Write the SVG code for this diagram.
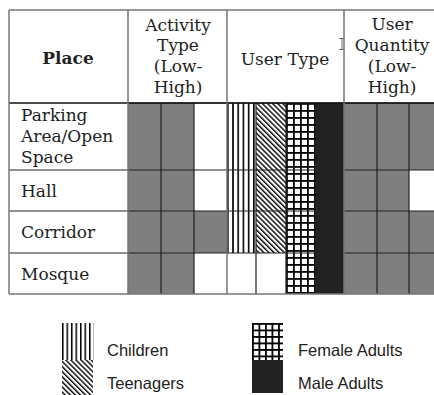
<svg xmlns="http://www.w3.org/2000/svg" width="434" height="395" viewBox="0 0 434 395">
<defs>
<style>
.hd{font-family:"DejaVu Serif","Liberation Serif",serif;font-size:17px;fill:#222;text-anchor:middle}
.rl{font-family:"DejaVu Serif","Liberation Serif",serif;font-size:17px;fill:#222}
.lg{font-family:"Liberation Sans",Arial,sans-serif;font-size:16.5px;fill:#222}
.g{fill:#7f7f7f}
.k{fill:#222}
.ln{stroke:#222;stroke-width:1.2;fill:none}
.lt{stroke:#777;stroke-width:1.5;fill:none}
</style>
<pattern id="vs" patternUnits="userSpaceOnUse" x="227" y="0" width="5.2" height="10">
<rect width="5.2" height="10" fill="#fff"/>
<rect x="0" y="0" width="1.6" height="10" fill="#000"/>
</pattern>
<pattern id="vs2" patternUnits="userSpaceOnUse" x="62" y="0" width="4.5" height="10">
<rect width="4.5" height="10" fill="#fff"/>
<rect x="0" y="0" width="1.5" height="10" fill="#000"/>
</pattern>
<pattern id="dg" patternUnits="userSpaceOnUse" width="3.6" height="10" patternTransform="rotate(-45)">
<rect width="3.6" height="10" fill="#fff"/>
<rect x="0" y="0" width="1.4" height="10" fill="#000"/>
</pattern>
<pattern id="gr" patternUnits="userSpaceOnUse" x="286" y="103" width="7" height="7">
<rect width="7" height="7" fill="#fff"/>
<rect x="0" y="0" width="7" height="1.8" fill="#000"/>
<rect x="0" y="0" width="1.8" height="7" fill="#000"/>
</pattern>
<pattern id="gr2" patternUnits="userSpaceOnUse" x="252" y="323" width="6.5" height="6.5">
<rect width="6.5" height="6.5" fill="#fff"/>
<rect x="0" y="0" width="6.5" height="1.8" fill="#000"/>
<rect x="0" y="0" width="1.8" height="6.5" fill="#000"/>
</pattern>
</defs>
<rect width="434" height="395" fill="#fff"/>

<g id="header">
<text class="hd" x="68" y="64" font-weight="bold">Place</text>
<text class="hd" x="178" y="31">Activity</text>
<text class="hd" x="178" y="51">Type</text>
<text class="hd" x="178" y="72">(Low-</text>
<text class="hd" x="178" y="93">High)</text>
<text class="hd" x="285" y="65">User Type</text>
<text class="hd" x="392" y="30">User</text>
<text class="hd" x="392" y="51">Quantity</text>
<text class="hd" x="392" y="72">(Low-</text>
<text class="hd" x="392" y="93">High)</text>
<path d="M339.5 38.5 h2.5 v11 h-2.5 M342 38.5 h2.5 M342 49.5 h2.5" stroke="#444" stroke-width="0.8" fill="none"/>
</g>

<g id="row-parking">
<text class="rl" x="21" y="121">Parking</text>
<text class="rl" x="21" y="142">Area/Open</text>
<text class="rl" x="21" y="163">Space</text>
<rect class="g" x="128" y="103" width="66" height="67"/>
<rect fill="url(#vs)" x="227" y="103" width="29" height="67"/>
<rect fill="url(#dg)" x="256" y="103" width="30" height="67"/>
<rect fill="url(#gr)" x="286" y="103" width="30" height="67"/>
<rect class="k" x="316" y="103" width="28" height="67"/>
<rect class="g" x="344" y="103" width="90" height="67"/>
</g>

<g id="row-hall">
<text class="rl" x="21" y="197">Hall</text>
<rect class="g" x="128" y="170" width="66" height="41"/>
<rect fill="url(#vs)" x="227" y="170" width="29" height="41"/>
<rect fill="url(#dg)" x="256" y="170" width="30" height="41"/>
<rect fill="url(#gr)" x="286" y="170" width="30" height="41"/>
<rect class="k" x="316" y="170" width="28" height="41"/>
<rect class="g" x="344" y="170" width="65" height="41"/>
</g>

<g id="row-corridor">
<text class="rl" x="21" y="238">Corridor</text>
<rect class="g" x="128" y="211" width="99" height="42"/>
<rect fill="url(#vs)" x="227" y="211" width="29" height="42"/>
<rect fill="url(#dg)" x="256" y="211" width="30" height="42"/>
<rect fill="url(#gr)" x="286" y="211" width="30" height="42"/>
<rect class="k" x="316" y="211" width="28" height="42"/>
<rect class="g" x="344" y="211" width="90" height="42"/>
</g>

<g id="row-mosque">
<text class="rl" x="21" y="280">Mosque</text>
<rect class="g" x="128" y="253" width="66" height="41"/>
<rect fill="url(#gr)" x="286" y="253" width="30" height="41"/>
<rect class="k" x="316" y="253" width="28" height="41"/>
<rect class="g" x="344" y="253" width="90" height="41"/>
</g>

<g id="grid-lines">
<path class="ln" d="M128 103 H434 M9 170 H434 M9 211 H434 M9 253 H434"/>
<path class="ln" d="M161 103 V294 M194 103 V294 M256 103 V294 M286 103 V294 M316 103 V294 M377 103 V294 M409 103 V294"/>
<path d="M9 103 H434" stroke="#111" stroke-width="1.3"/>
<path class="lt" d="M128 10 V294 M227 10 V294 M344 10 V294"/>
<path class="lt" d="M9 10 H434 M9 10 V294 M9 294 H434"/>
</g>

<g id="legend">
<rect fill="url(#vs2)" x="62" y="323" width="31.5" height="37"/>
<rect fill="url(#dg)" x="62" y="360" width="31" height="35"/>
<text class="lg" x="107" y="356">Children</text>
<text class="lg" x="107" y="389">Teenagers</text>
<rect fill="url(#gr2)" x="252" y="323" width="31" height="37"/>
<rect class="k" x="252" y="360" width="31" height="33"/>
<text class="lg" x="298" y="356">Female Adults</text>
<text class="lg" x="298" y="389">Male Adults</text>
</g>
</svg>
